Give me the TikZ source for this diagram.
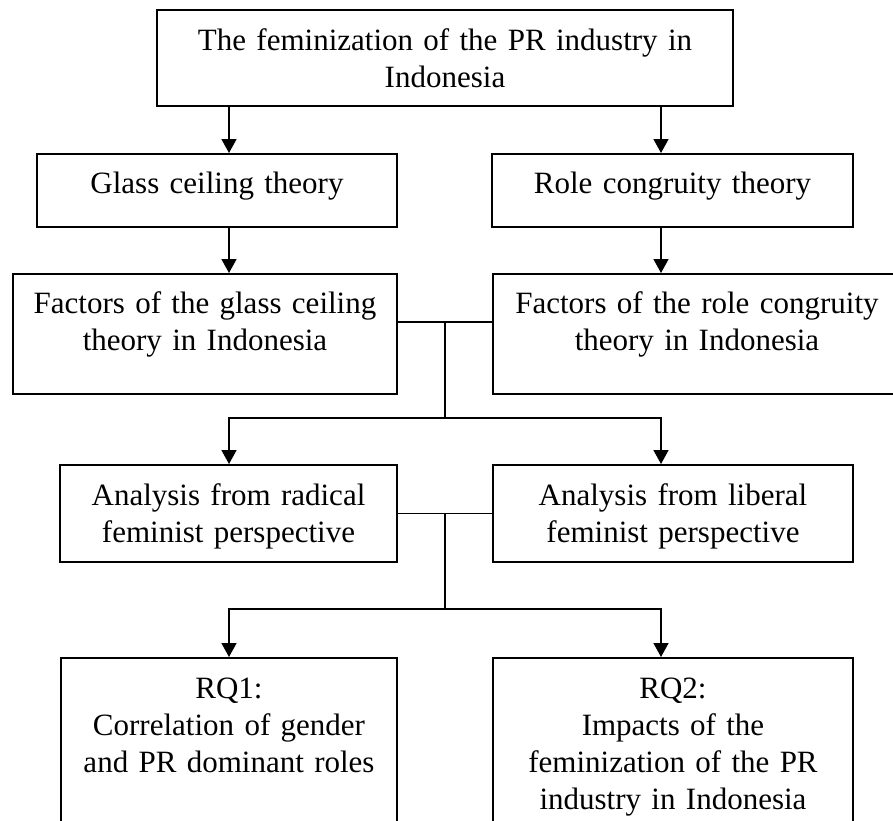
\documentclass[tikz,border=0pt]{standalone}
\usepackage{fontspec}
\setmainfont{Liberation Serif}
\usetikzlibrary{arrows.meta}

\begin{document}
\begin{tikzpicture}[x=1pt, y=-1pt, line width=1.5pt, -{Triangle[width=15pt,length=14pt]},
        every node/.append style={font=\fontsize{31}{37}\selectfont}]
      \tikzstyle{box} = [draw, -, rectangle, inner sep=0pt, align=center, anchor=north]
      \useasboundingbox (0,0) rectangle (893,820);
      \clip (0,0) rectangle (893,820);
      \node (industry) [box, text width=576pt, text height=41pt, text depth=55pt] at (445,9)
        {The feminization of the PR industry in\\Indonesia};
      \node (glass) [box, text width=360pt, text height=40pt, text depth=33pt] at (217,153)
        {Glass ceiling theory};
      \node (role) [box, text width=361pt, text height=40pt, text depth=33pt] at (672.5,153)
        {Role congruity theory};
      \node (facGlass) [box, text width=384pt, text height=40pt, text depth=80pt] at (205,273)
        {Factors of the glass ceiling\\theory in Indonesia};
      \node (facRole) [box, text width=408pt, text height=40pt, text depth=80pt] at (697,273)
        {Factors of the role congruity\\theory in Indonesia};
      \node (radical) [box, text width=337pt, text height=41pt, text depth=56pt] at (228.5,464)
        {Analysis from radical\\feminist perspective};
      \node (liberal) [box, text width=360pt, text height=41pt, text depth=56pt] at (673,464)
        {Analysis from liberal\\feminist perspective};
      \node (rqOne) [box, text width=336pt, text height=41pt, text depth=200pt] at (229,657)
        {RQ1:\\Correlation of gender\\and PR dominant roles};
      \node (rqTwo) [box, text width=360pt, text height=41pt, text depth=200pt] at (673,657)
        {RQ2:\\Impacts of the\\feminization of the PR\\industry in Indonesia};
      \coordinate (colL) at (229,0);
      \coordinate (colR) at (661,0);
      \coordinate (link) at (445,322);
      \coordinate (forkA) at (445,418);
      \coordinate (forkB) at (445,609);
      \draw (industry.south -| colL) -- (glass.north -| colL);
      \draw (industry.south -| colR) -- (role.north -| colR);
      \draw (glass.south -| colL) -- (facGlass.north -| colL);
      \draw (role.south -| colR) -- (facRole.north -| colR);
      \draw[-] (facGlass.east |- link) -- (facRole.west |- link);
      \draw (link) -- (forkA) -| (radical.north -| colL);
      \draw (forkA) -| (liberal.north -| colR);
      \draw[-] (radical.east) -- (liberal.west);
      \draw (radical.east -| link) -- (forkB) -| (rqOne.north -| colL);
      \draw (forkB) -| (rqTwo.north -| colR);
    \end{tikzpicture}
\end{document}
